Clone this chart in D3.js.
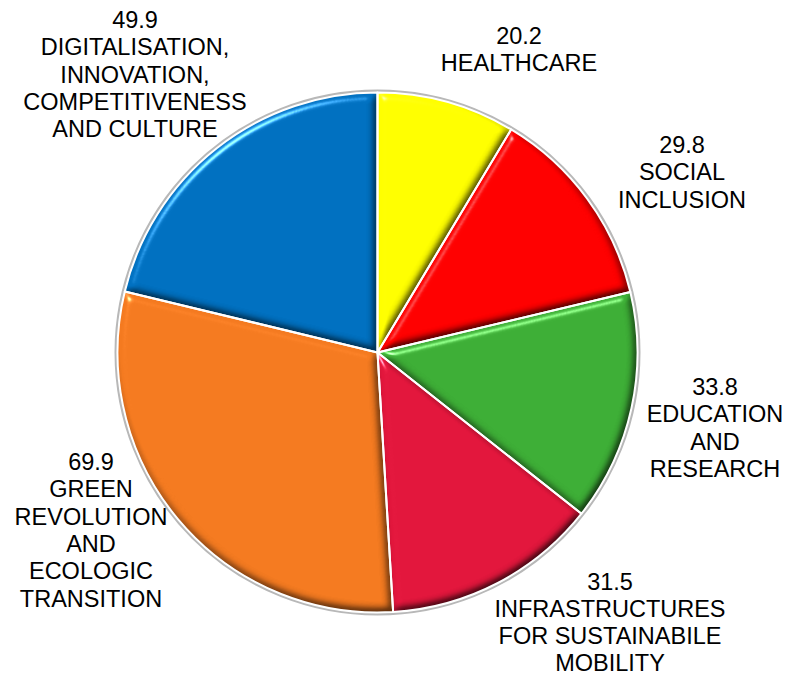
<!DOCTYPE html>
<html>
<head>
<meta charset="utf-8">
<script src="https://cdn.jsdelivr.net/npm/d3@7"></script>
<style>
  html, body { margin: 0; padding: 0; background: #fff; }
  svg { display: block; }
  .lbl { font-family: "Liberation Sans", Arial, sans-serif; font-size: 23.5px; fill: #000; }
</style>
</head>
<body>
<div id="chart"></div>
<script>
// values in billions, clockwise from 12 o'clock
const categories = [
    ['HEALTHCARE'],
    ['SOCIAL', 'INCLUSION'],
    ['EDUCATION', 'AND', 'RESEARCH'],
    ['INFRASTRUCTURES', 'FOR SUSTAINABILE', 'MOBILITY'],
    ['GREEN', 'REVOLUTION', 'AND', 'ECOLOGIC', 'TRANSITION'],
    ['DIGITALISATION,', 'INNOVATION,', 'COMPETITIVENESS', 'AND CULTURE']
];
const values = [20.2, 29.8, 33.8, 31.5, 69.9, 49.9];
const colors = ['#FFFF00', '#FF0000', '#3DAE36', '#E2163C', '#F47A20', '#0070C0'];

// where each label block sits: center x, first baseline
const labelPos = [[519, 43.5], [682, 153], [715, 395], [610, 589.5], [91, 470], [135, 28]];

const width = 790, height = 675;
const cx = 377.5, cy = 352.5, radius = 260;
const lineH = 27.3;

const svg = d3.select('#chart').append('svg')
    .attr('width', width)
    .attr('height', height);

const defs = svg.append('defs');
const f = defs.append('filter')
    .attr('id', 'bevel')
    .attr('color-interpolation-filters', 'sRGB')
    .attr('x', '-5%').attr('y', '-5%')
    .attr('width', '110%').attr('height', '110%');
f.append('feGaussianBlur').attr('in', 'SourceAlpha').attr('stdDeviation', 4).attr('result', 'blur');
f.append('feDiffuseLighting')
    .attr('in', 'blur').attr('surfaceScale', 5).attr('diffuseConstant', 1.155)
    .attr('lighting-color', '#fff').attr('result', 'diff')
    .append('feDistantLight').attr('azimuth', 235).attr('elevation', 60);
f.append('feComposite').attr('in', 'SourceGraphic').attr('in2', 'diff')
    .attr('operator', 'arithmetic').attr('k1', 1).attr('k2', 0).attr('k3', 0).attr('k4', 0)
    .attr('result', 'shaded');
f.append('feSpecularLighting')
    .attr('in', 'blur').attr('surfaceScale', 5).attr('specularConstant', 0.8)
    .attr('specularExponent', 60).attr('lighting-color', '#fff').attr('result', 'spec')
    .append('feDistantLight').attr('azimuth', 235).attr('elevation', 40);
f.append('feComposite').attr('in', 'spec').attr('in2', 'SourceAlpha')
    .attr('operator', 'in').attr('result', 'specIn');
f.append('feComposite').attr('in', 'shaded').attr('in2', 'specIn')
    .attr('operator', 'arithmetic').attr('k1', 0).attr('k2', 1).attr('k3', 0.8).attr('k4', 0)
    .attr('result', 'lit');
f.append('feComposite').attr('in', 'lit').attr('in2', 'SourceAlpha').attr('operator', 'in');

const g = svg.append('g').attr('transform', `translate(${cx},${cy})`);

// rim
g.append('circle').attr('r', radius + 1.5)
    .attr('fill', 'none').attr('stroke', '#b8b8b8').attr('stroke-width', 3);

const pie = d3.pie().sort(null).value(d => d)(values);
const arc = d3.arc().innerRadius(0).outerRadius(radius);

g.selectAll('path.slice')
    .data(pie)
    .enter().append('path')
    .attr('class', 'slice')
    .attr('d', arc)
    .attr('fill', (d, i) => colors[i])
    .attr('filter', 'url(#bevel)');

g.selectAll('path.edge')
    .data(pie)
    .enter().append('path')
    .attr('class', 'edge')
    .attr('d', arc)
    .attr('fill', 'none')
    .attr('stroke', '#fff')
    .attr('stroke-width', 2)
    .attr('stroke-linejoin', 'round');

const labels = svg.append('g').selectAll('text')
    .data(pie)
    .enter().append('text')
    .attr('class', 'lbl')
    .attr('text-anchor', 'middle');

labels.each(function (d, i) {
    const t = d3.select(this);
    const lines = [String(values[i])].concat(categories[i]);
    lines.forEach((s, j) => {
        t.append('tspan')
            .attr('x', labelPos[i][0])
            .attr('y', labelPos[i][1] + j * lineH)
            .text(s);
    });
});
</script>
</body>
</html>
